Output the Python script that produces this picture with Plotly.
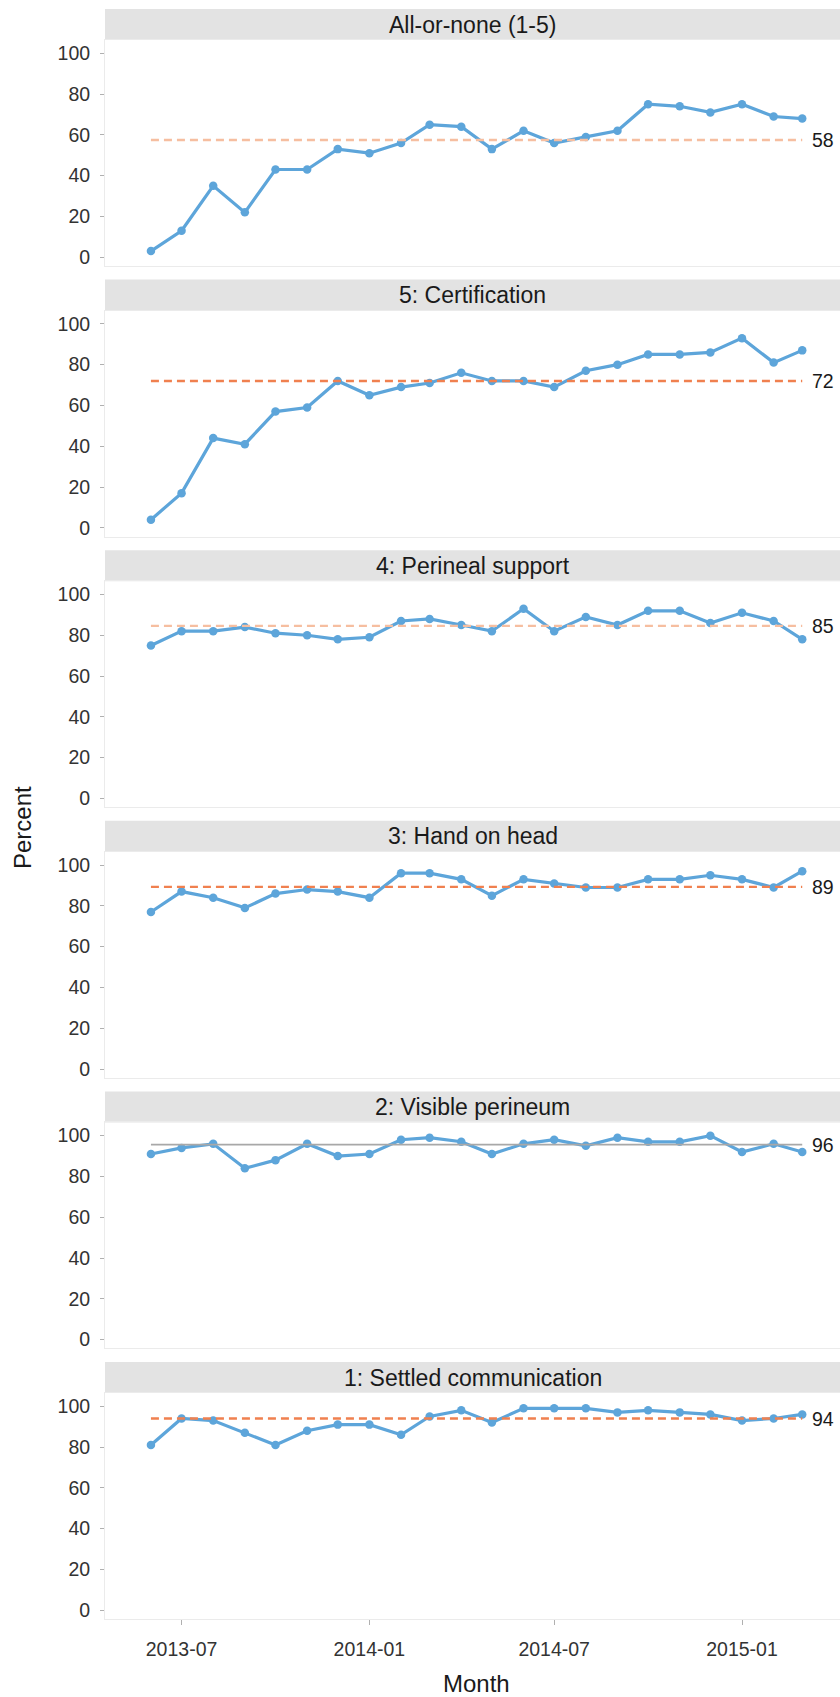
import plotly.graph_objects as go
from plotly.subplots import make_subplots

months = ["2013-06-01", "2013-07-01", "2013-08-01", "2013-09-01", "2013-10-01", "2013-11-01",
          "2013-12-01", "2014-01-01", "2014-02-01", "2014-03-01", "2014-04-01", "2014-05-01",
          "2014-06-01", "2014-07-01", "2014-08-01", "2014-09-01", "2014-10-01", "2014-11-01",
          "2014-12-01", "2015-01-01", "2015-02-01", "2015-03-01"]

panel_titles = ["All-or-none (1-5)", "5: Certification", "4: Perineal support",
                "3: Hand on head", "2: Visible perineum", "1: Settled communication"]

all_or_none = [3, 13, 35, 22, 43, 43, 53, 51, 56, 65, 64, 53, 62, 56, 59, 62, 75, 74, 71, 75, 69, 68]
certification = [4, 17, 44, 41, 57, 59, 72, 65, 69, 71, 76, 72, 72, 69, 77, 80, 85, 85, 86, 93, 81, 87]
perineal_support = [75, 82, 82, 84, 81, 80, 78, 79, 87, 88, 85, 82, 93, 82, 89, 85, 92, 92, 86, 91, 87, 78]
hand_on_head = [77, 87, 84, 79, 86, 88, 87, 84, 96, 96, 93, 85, 93, 91, 89, 89, 93, 93, 95, 93, 89, 97]
visible_perineum = [91, 94, 96, 84, 88, 96, 90, 91, 98, 99, 97, 91, 96, 98, 95, 99, 97, 97, 100, 92, 96, 92]
settled_comm = [81, 94, 93, 87, 81, 88, 91, 91, 86, 95, 98, 92, 99, 99, 99, 97, 98, 97, 96, 93, 94, 96]

series = [all_or_none, certification, perineal_support, hand_on_head, visible_perineum, settled_comm]
center_lines = [57.5, 72, 84.6, 89.3, 95.6, 94]
center_labels = ["58", "72", "85", "89", "96", "94"]
cl_styles = ["light", "signal", "light", "signal", "none", "signal"]

x_ticks = ["2013-07-01", "2014-01-01", "2014-07-01", "2015-01-01"]
y_ticks = [0, 20, 40, 60, 80, 100]

W, H = 840, 1697
BLUE = "#5DA5DA"
CL_COLORS = {"signal": "#F0804F", "light": "#F6BEA0", "none": "#A8A8A8"}
FONT = "Liberation Sans, Arial, Helvetica, sans-serif"

n = len(series)
fig = make_subplots(rows=n, cols=1, shared_xaxes=False)

strip_top0, period, strip_h, plot_h = 9, 270.6, 31, 226

def py(px):
    return 1 - px / H

shapes = []
annotations = []
for i in range(n):
    r = i + 1
    vals = series[i]
    fig.add_trace(go.Scatter(x=months, y=vals, mode="lines+markers",
                             line=dict(color=BLUE, width=3.2),
                             marker=dict(color=BLUE, size=8.5),
                             showlegend=False, hoverinfo="x+y"), row=r, col=1)
    style = cl_styles[i]
    fig.add_trace(go.Scatter(x=[months[0], months[-1]], y=[center_lines[i]] * 2, mode="lines",
                             line=dict(color=CL_COLORS[style], width=2.4 if style != "none" else 1.8,
                                       dash="solid" if style == "none" else "8px,5px"),
                             showlegend=False, hoverinfo="skip"), row=r, col=1)

    s_top = strip_top0 + period * i
    p_top = s_top + strip_h
    p_bot = p_top + plot_h
    yname = "yaxis" if r == 1 else f"yaxis{r}"
    fig.layout[yname].update(domain=[py(p_bot), py(p_top)])

    shapes.append(dict(type="rect", xref="paper", yref="paper", x0=0, x1=1,
                       y0=py(p_top), y1=py(s_top), fillcolor="#E3E3E3", line=dict(width=0),
                       layer="below"))
    annotations.append(dict(text=panel_titles[i], xref="paper", yref="paper", x=0.5,
                            y=py(s_top + strip_h / 2), xanchor="center", yanchor="middle",
                            showarrow=False, font=dict(size=23, color="#1A1A1A", family=FONT)))
    xref = "x" if r == 1 else f"x{r}"
    yref = "y" if r == 1 else f"y{r}"
    annotations.append(dict(text=center_labels[i], xref=xref, yref=yref, x=months[-1],
                            y=center_lines[i], xanchor="left", yanchor="middle", xshift=8,
                            showarrow=False, font=dict(size=19.5, color="#1A1A1A", family=FONT)))

for r in range(1, n + 1):
    fig.update_yaxes(row=r, col=1, range=[-4.3, 106.5], tickvals=y_ticks, ticks="outside",
                     ticklen=4, tickwidth=1, tickcolor="#B0B0B0", showgrid=False, zeroline=False,
                     showline=True, linecolor="#EBEBEB", linewidth=1, mirror=True,
                     tickfont=dict(size=19.5, color="#333333", family=FONT),
                     ticklabelstandoff=6, automargin=False, fixedrange=True)
    fig.update_xaxes(row=r, col=1, type="date", range=["2013-04-17", "2015-04-07"],
                     tickvals=x_ticks, tickformat="%Y-%m", showgrid=False, zeroline=False,
                     showline=True, linecolor="#EBEBEB", linewidth=1, mirror=True,
                     ticks="outside" if r == n else "", ticklen=5, tickcolor="#B0B0B0",
                     showticklabels=(r == n), ticklabelstandoff=8,
                     tickfont=dict(size=19.5, color="#333333", family=FONT),
                     automargin=False, fixedrange=True)

annotations.append(dict(text="Percent", xref="paper", yref="paper", x=0, xshift=-83,
                        y=py(828), xanchor="center", yanchor="middle", textangle=-90,
                        showarrow=False, font=dict(size=24, color="#1A1A1A", family=FONT)))
annotations.append(dict(text="Month", xref="paper", yref="paper", x=0.505, y=py(1683),
                        xanchor="center", yanchor="middle", showarrow=False,
                        font=dict(size=24, color="#1A1A1A", family=FONT)))

fig.update_layout(width=W, height=H, margin=dict(l=105, r=0, t=0, b=0),
                  paper_bgcolor="white", plot_bgcolor="white", shapes=shapes,
                  annotations=annotations, font=dict(family=FONT), showlegend=False)

fig.write_html("out.html", config={"displayModeBar": False},
               post_script="document.body.style.margin='0';document.body.style.overflow='hidden';")
